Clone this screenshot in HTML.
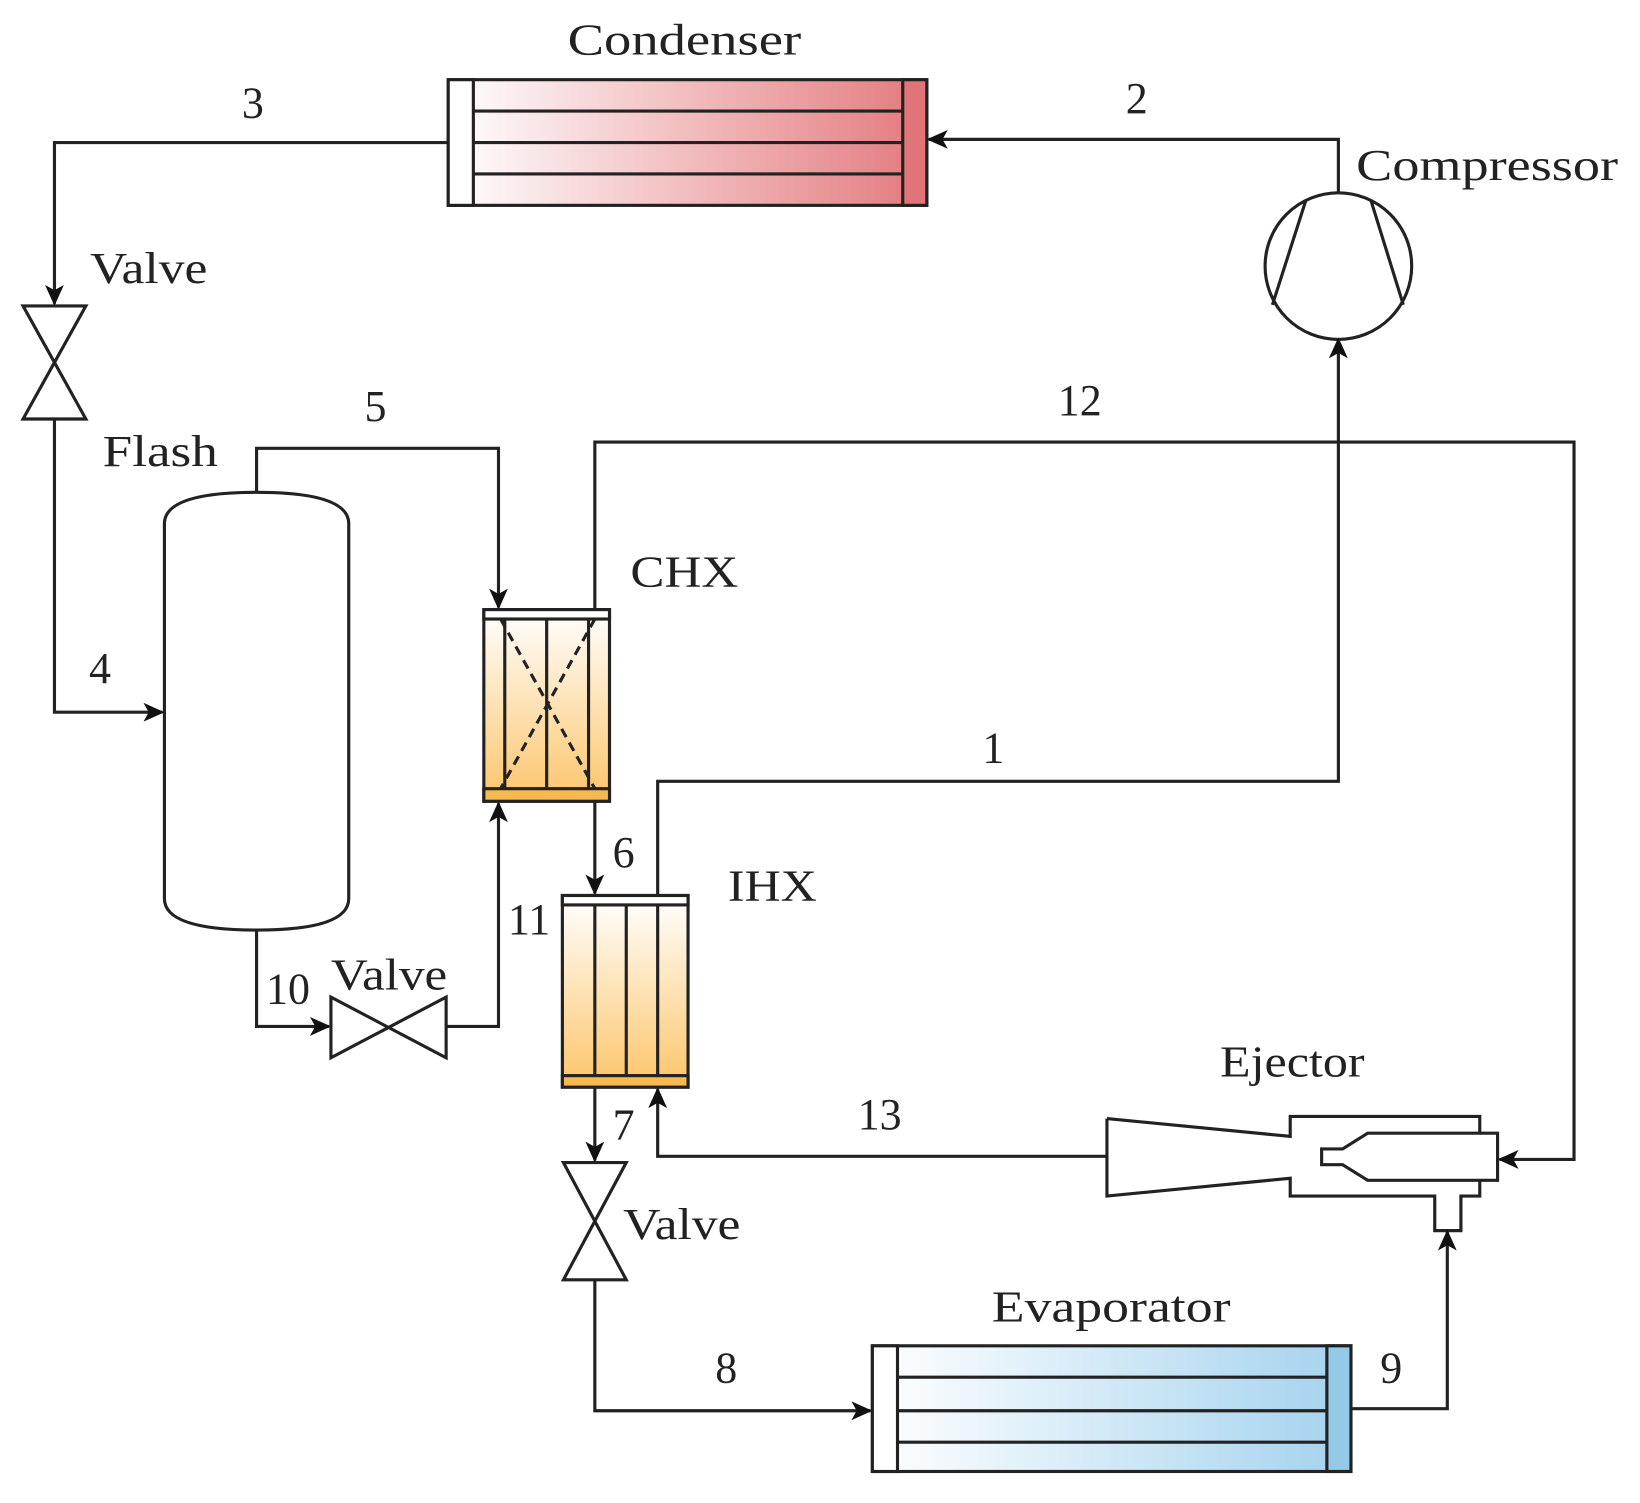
<!DOCTYPE html>
<html><head><meta charset="utf-8"><style>html,body{margin:0;padding:0;background:#fff}svg{display:block}</style></head>
<body>
<svg width="1640" height="1503" viewBox="0 0 1566 1435" xmlns="http://www.w3.org/2000/svg" font-family="Liberation Serif, serif" font-size="42" fill="#222">
<defs>
<marker id="a" markerWidth="20" markerHeight="18" refX="18" refY="9" orient="auto" markerUnits="userSpaceOnUse" viewBox="0 0 20 18"><path d="M0,0 L20,9 L0,18 L5,9 z" fill="#111"/></marker>
<linearGradient id="red" x1="0" x2="1" y1="0" y2="0"><stop offset="0" stop-color="#fff"/><stop offset="1" stop-color="#e37a7d"/></linearGradient>
<linearGradient id="blue" x1="0" x2="1" y1="0" y2="0"><stop offset="0" stop-color="#fff"/><stop offset="1" stop-color="#a3d2ee"/></linearGradient>
<linearGradient id="or" x1="0" x2="0" y1="0" y2="1"><stop offset="0" stop-color="#fff"/><stop offset="1" stop-color="#fcc56a"/></linearGradient>
</defs>
<g stroke="#222" stroke-width="3" fill="none">
<rect x="428" y="76" width="457" height="120" fill="url(#red)"/>
<rect x="428" y="76" width="24" height="120" fill="#fff"/>
<rect x="862" y="76" width="23" height="120" fill="#e07478"/>
<path d="M452 106H862M452 136H862M452 166H862"/>
<rect x="833" y="1285" width="457" height="120" fill="url(#blue)"/>
<rect x="833" y="1285" width="24" height="120" fill="#fff"/>
<rect x="1267" y="1285" width="23" height="120" fill="#95c9e8"/>
<path d="M857 1315H1267M857 1347H1267M857 1377H1267"/>
<circle cx="1278" cy="254" r="70"/>
<path d="M1247 191L1215 291M1309 191L1340 291"/>
<path d="M157 500 Q157 470 245 470 Q333 470 333 500 V858 Q333 888 245 888 Q157 888 157 858 Z" fill="#fff"/>
<path d="M22 292H82L22 400H82Z"/>
<path d="M316 952V1010L426 952V1010Z"/>
<path d="M538 1110H598L538 1222H598Z"/>
<rect x="462" y="582" width="120" height="183" fill="url(#or)"/>
<rect x="462" y="582" width="120" height="9" fill="#fff"/>
<rect x="462" y="753" width="120" height="12" fill="#f8b850"/>
<path d="M482 591V753M522 591V753M562 591V753"/>
<path d="M478 591L568 753M568 591L478 753" stroke-dasharray="9 6"/>
<rect x="537" y="855" width="120" height="183" fill="url(#or)"/>
<rect x="537" y="855" width="120" height="9" fill="#fff"/>
<rect x="537" y="1027" width="120" height="11" fill="#f8b850"/>
<path d="M568 864V1027M598 864V1027M628 864V1027"/>
<path d="M1057 1068L1232 1085V1066H1413V1082M1057 1068V1142L1232 1125V1142H1370V1175H1395V1142H1413V1127"/>
<path d="M1306 1082H1430V1127H1306L1282 1112H1262V1097H1282Z" fill="#fff"/>
<path d="M428 136H52V290" marker-end="url(#a)"/>
<path d="M52 400V680H155" marker-end="url(#a)"/>
<path d="M245 470V428H476V580" marker-end="url(#a)"/>
<path d="M568 582V422H1503V1107H1432" marker-end="url(#a)"/>
<path d="M1278 184V133H887" marker-end="url(#a)"/>
<path d="M628 855V746H1278V324" marker-end="url(#a)"/>
<path d="M568 765V853" marker-end="url(#a)"/>
<path d="M245 888V980H314" marker-end="url(#a)"/>
<path d="M426 980H476V767" marker-end="url(#a)"/>
<path d="M568 1038V1108" marker-end="url(#a)"/>
<path d="M568 1222V1347H831" marker-end="url(#a)"/>
<path d="M1290 1345H1382V1176" marker-end="url(#a)"/>
<path d="M1057 1104H628V1040" marker-end="url(#a)"/>
</g>
<g lengthAdjust="spacingAndGlyphs">
<text x="542" y="52" textLength="223" lengthAdjust="spacingAndGlyphs">Condenser</text>
<text x="231" y="112">3</text>
<text x="1075" y="108">2</text>
<text x="1295" y="172" textLength="250" lengthAdjust="spacingAndGlyphs">Compressor</text>
<text x="86" y="270" textLength="112" lengthAdjust="spacingAndGlyphs">Valve</text>
<text x="98" y="445" textLength="110" lengthAdjust="spacingAndGlyphs">Flash</text>
<text x="348" y="402">5</text>
<text x="1010" y="396">12</text>
<text x="602" y="560" textLength="103" lengthAdjust="spacingAndGlyphs">CHX</text>
<text x="85" y="652">4</text>
<text x="938" y="728">1</text>
<text x="585" y="828">6</text>
<text x="695" y="860" textLength="85" lengthAdjust="spacingAndGlyphs">IHX</text>
<text x="485" y="892">11</text>
<text x="254" y="958">10</text>
<text x="316" y="945" textLength="111" lengthAdjust="spacingAndGlyphs">Valve</text>
<text x="1165" y="1028" textLength="138" lengthAdjust="spacingAndGlyphs">Ejector</text>
<text x="819" y="1078">13</text>
<text x="585" y="1088">7</text>
<text x="595" y="1183" textLength="112" lengthAdjust="spacingAndGlyphs">Valve</text>
<text x="947" y="1262" textLength="228" lengthAdjust="spacingAndGlyphs">Evaporator</text>
<text x="683" y="1320">8</text>
<text x="1318" y="1320">9</text>
</g>
</svg>
</body></html>
